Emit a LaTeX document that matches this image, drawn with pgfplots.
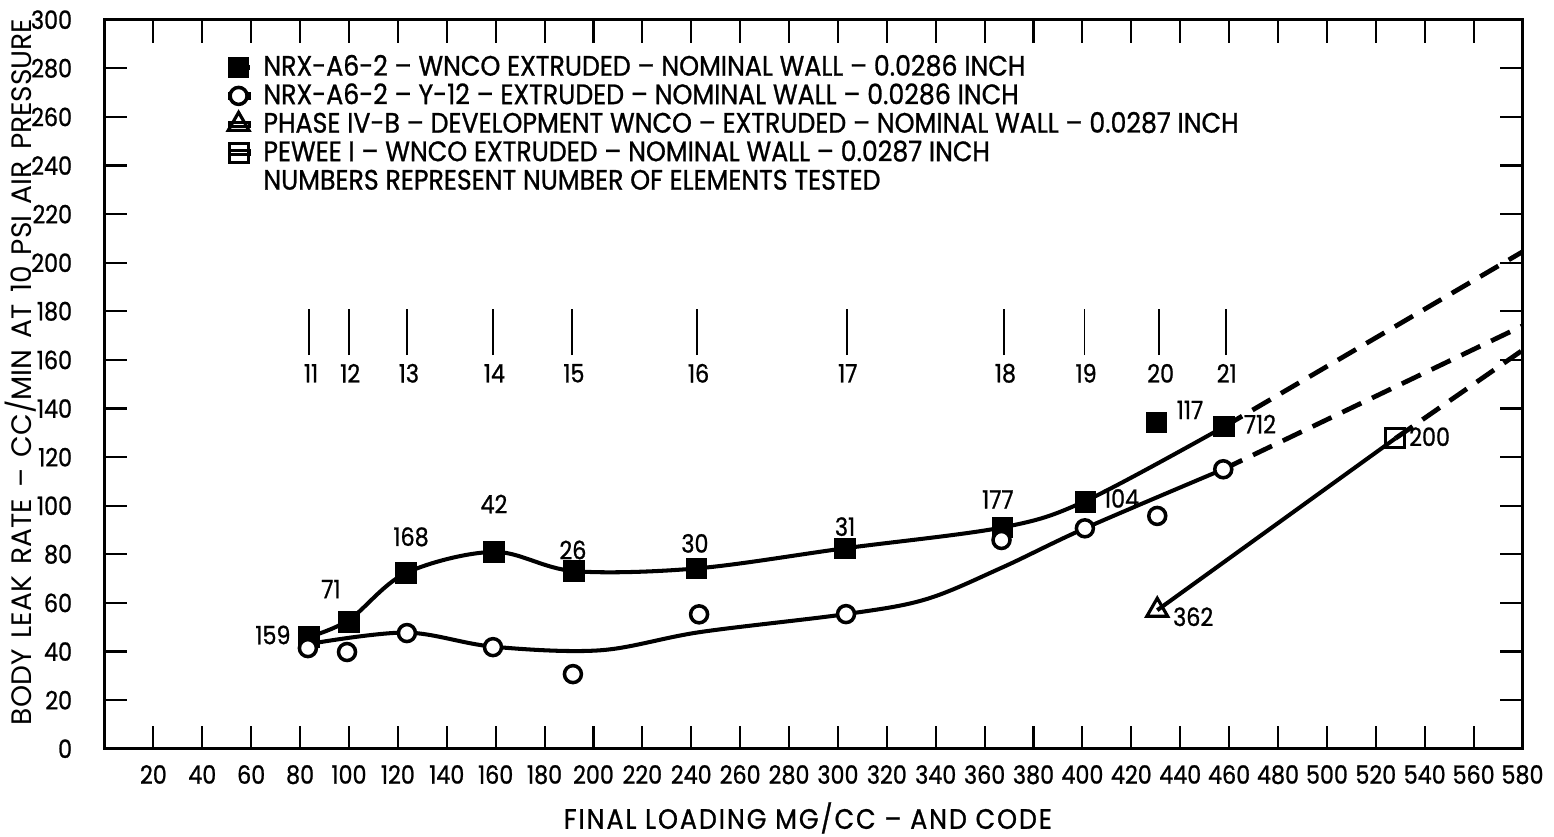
\documentclass[border=0pt]{standalone}
\usepackage{fontspec}
\setmainfont{Poppins}[FakeStretch=0.9, FakeBold=0.9]
\newfontfamily\numfont{Poppins}[FakeStretch=0.88, FakeBold=0.9]
\newfontfamily\rotfont{Poppins}[Ligatures=TeX]
\usepackage{pgfplots}
\pgfplotsset{compat=1.18}
\newcommand\fs{\fontsize{8pt}{9.6pt}\selectfont}
\newcommand\fn{\numfont\fontsize{7.2pt}{8.4pt}\selectfont}
\newcommand\fsl{\fontsize{8pt}{9.6pt}\selectfont\addfontfeatures{LetterSpace=7}}
\newcommand\fsr{\rotfont\fontsize{8pt}{9.6pt}\selectfont}
\begin{document}
\begin{tikzpicture}
\useasboundingbox (-1.045cm,-0.873cm) rectangle (14.495cm,7.487cm);
\begin{axis}[
  at={(0,0)}, anchor=south west, scale only axis,
  width=14.18cm, height=7.29cm,
  xmin=0, xmax=580, ymin=0, ymax=300,
  xtick={20,40,...,580}, ytick={0,20,...,300},
  tick align=inside, major tick length=2.3mm,
  tick style={black, line width=0.6pt},
  axis line style={line width=0.9pt},
  ticklabel style={font=\fn},
  xticklabel style={yshift=-0.4mm},
  yticklabel style={xshift=-2mm},
  /pgf/number format/assume math mode=true,
  xlabel={FINAL LOADING MG/CC -- AND CODE},
  ylabel={\spaceskip=0.4em\relax BODY LEAK RATE -- CC/MIN AT 10 PSI AIR PRESSURE},
  xlabel style={font=\fsl, at={(axis description cs:0.496,-0.095)}, anchor=center},
  ylabel style={font=\fsr, at={(axis description cs:-0.059,0.517)}, anchor=center},
  clip=false,
  legend style={draw=none, fill=none, at={(axis description cs:0.0865,0.951)}, anchor=north west,
    font=\fs, inner sep=0pt, row sep=0.6mm, legend cell align=left,
    nodes={inner sep=0pt, text height=1.95mm, text depth=0.3mm},
    /tikz/every odd column/.style={column sep=1.2mm}},
  legend image code/.code={\path (0,-0.2mm) rectangle (2mm,0.2mm); \draw[#1, overlay] plot coordinates {(0.9mm,0mm)};},
]
% legend
\addlegendimage{only marks, mark=square*, mark size=1mm, black}
\addlegendentry{NRX-A6-2 -- WNCO EXTRUDED -- NOMINAL WALL -- 0.0286 INCH}
\addlegendimage{only marks, mark=*, mark size=0.85mm, line width=1pt, draw=black, fill=white}
\addlegendentry{NRX-A6-2 -- Y-12 -- EXTRUDED -- NOMINAL WALL -- 0.0286 INCH}
\addlegendimage{only marks, mark=triangle, mark size=1.2mm, line width=0.9pt, black}
\addlegendentry{PHASE IV-B -- DEVELOPMENT WNCO -- EXTRUDED -- NOMINAL WALL -- 0.0287 INCH}
\addlegendimage{only marks, mark=square, mark size=0.95mm, line width=0.9pt, black}
\addlegendentry{PEWEE I -- WNCO EXTRUDED -- NOMINAL WALL -- 0.0287 INCH}
\addlegendimage{empty legend}
\addlegendentry{NUMBERS REPRESENT NUMBER OF ELEMENTS TESTED}

% code markers
\addplot[black, line width=0.5pt, forget plot] coordinates {(83.6,162) (83.6,181)};
\addplot[black, line width=0.5pt, forget plot] coordinates {(100,162) (100,181)};
\addplot[black, line width=0.5pt, forget plot] coordinates {(123.7,162) (123.7,181)};
\addplot[black, line width=0.5pt, forget plot] coordinates {(158.9,162) (158.9,181)};
\addplot[black, line width=0.5pt, forget plot] coordinates {(191.2,162) (191.2,181)};
\addplot[black, line width=0.5pt, forget plot] coordinates {(242.3,162) (242.3,181)};
\addplot[black, line width=0.5pt, forget plot] coordinates {(303.6,162) (303.6,181)};
\addplot[black, line width=0.5pt, forget plot] coordinates {(368,162) (368,181)};
\addplot[black, line width=0.5pt, forget plot] coordinates {(400.8,162) (400.8,181)};
\addplot[black, line width=0.5pt, forget plot] coordinates {(431.4,162) (431.4,181)};
\addplot[black, line width=0.5pt, forget plot] coordinates {(458.6,162) (458.6,181)};
\node[font=\fn] at (axis cs:84.5,154.5) {11};
\node[font=\fn] at (axis cs:100.5,154.5) {12};
\node[font=\fn] at (axis cs:124.5,154.5) {13};
\node[font=\fn] at (axis cs:159.5,154.5) {14};
\node[font=\fn] at (axis cs:192,154.5) {15};
\node[font=\fn] at (axis cs:243,154.5) {16};
\node[font=\fn] at (axis cs:304,154.5) {17};
\node[font=\fn] at (axis cs:368.5,154.5) {18};
\node[font=\fn] at (axis cs:401.5,154.5) {19};
\node[font=\fn] at (axis cs:432,154.5) {20};
\node[font=\fn] at (axis cs:459,154.5) {21};

% curves
\addplot[black, line width=1.15pt, smooth, tension=0.55, forget plot] coordinates {
 (83.6,46) (100,53) (123.3,72.3) (159.3,81) (192,73.1) (242.2,74.2) (302.9,82.5) (367.4,91.1) (401.3,102) (457.9,132.5)};
\addplot[black, line width=1.15pt, smooth, tension=0.55, forget plot] coordinates {
 (86,43.5) (123.7,47.8) (158.9,42) (202.7,40.5) (243.6,48) (303.3,55.4) (336,61.5) (367,74.5) (401,90.7) (457.6,115)};
\addplot[black, line width=1.15pt, forget plot] coordinates {(430.6,57) (528,127.7)};
\addplot[black, line width=1.35pt, dash pattern=on 2.1mm off 1.2mm, forget plot] coordinates {(457.9,132.5) (580,204.5)};
\addplot[black, line width=1.35pt, dash pattern=on 2.1mm off 1.2mm, forget plot] coordinates {(457.6,115) (580,174)};
\addplot[black, line width=1.35pt, dash pattern=on 2.1mm off 1.2mm, forget plot] coordinates {(528,127.7) (580,164)};

% markers
\addplot[only marks, mark=square*, mark size=1mm, black, forget plot] coordinates {
 (83.6,46) (100,52.1) (123.3,72.3) (159.3,81) (192,73.1) (242.2,74.2) (302.9,82.5) (367.4,91.1) (401.3,101.6) (430.3,134.2) (457.9,132.5)};
\addplot[only marks, mark=*, mark size=0.85mm, line width=1pt, draw=black, fill=white, forget plot] coordinates {
 (83.2,41.4) (99.2,39.8) (123.7,47.6) (158.9,41.8) (191.6,30.7) (243.2,55.3) (303.3,55.4) (366.9,85.9) (401,90.7) (430.6,95.8) (457.6,115)};
\addplot[only marks, mark=triangle, mark size=1.2mm, line width=0.9pt, draw=black, fill=white, forget plot] coordinates {(430.6,57)};
\addplot[only marks, mark=square, mark size=0.95mm, line width=0.9pt, draw=black, fill=white, forget plot] coordinates {(528,127.7)};

% counts
\node[font=\fn] at (axis cs:68.9,46.8) {159};
\node[font=\fn] at (axis cs:92.6,65.7) {71};
\node[font=\fn] at (axis cs:125.4,87.2) {168};
\node[font=\fn] at (axis cs:159.3,100.7) {42};
\node[font=\fn] at (axis cs:191.6,81.8) {26};
\node[font=\fn] at (axis cs:241.5,84.5) {30};
\node[font=\fn] at (axis cs:302.9,91.4) {31};
\node[font=\fn] at (axis cs:365.4,102.6) {177};
\node[font=\fn] at (axis cs:416,103) {104};
\node[font=\fn] at (axis cs:444,139.4) {117};
\node[font=\fn] at (axis cs:472.6,133.6) {712};
\node[font=\fn] at (axis cs:445.3,54.3) {362};
\node[font=\fn] at (axis cs:542,128.4) {200};
\end{axis}
\end{tikzpicture}
\end{document}
